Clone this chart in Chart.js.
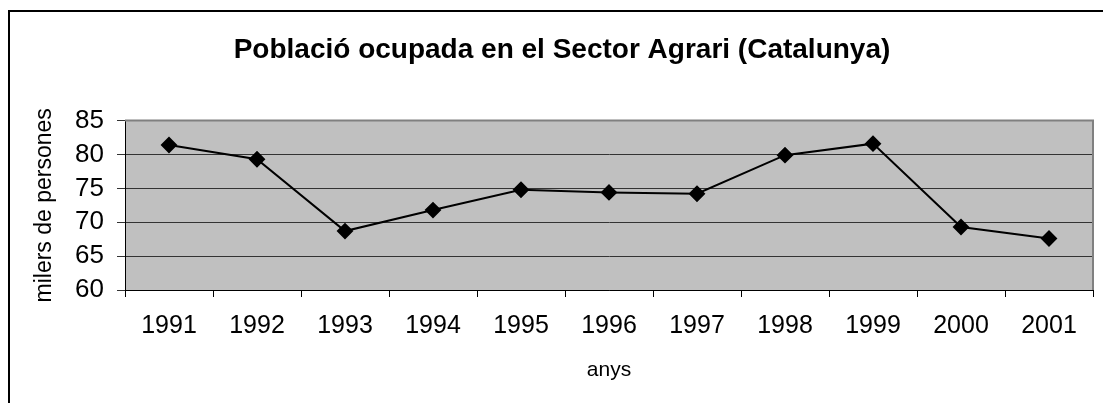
<!DOCTYPE html>
<html>
<head>
<meta charset="utf-8">
<script src="https://cdn.jsdelivr.net/npm/chart.js@4/dist/chart.umd.min.js"></script>
<style>
    html, body { margin: 0; padding: 0; background: #ffffff; }
    #wrap { width: 1103px; height: 403px; }
</style>
</head>
<body>
<div id="wrap"><canvas id="chart_agrari" width="1103" height="403"></canvas></div>
<script>
    // Dades: població ocupada en el sector agrari (milers de persones)
    var anys = ['1991', '1992', '1993', '1994', '1995', '1996', '1997', '1998', '1999', '2000', '2001'];
    var ocupats = [81.4, 79.3, 68.7, 71.8, 74.8, 74.4, 74.2, 79.9, 81.6, 69.3, 67.6];
    var eixY = [60, 65, 70, 75, 80, 85];

    var font = 'Arial, "Liberation Sans", sans-serif';

    // fons gris de l'àrea del gràfic + marc exterior
    var fonsPlugin = {
        id: 'fons',
        beforeDraw: function (chart) {
            var ctx = chart.ctx, a = chart.chartArea;
            ctx.save();
            ctx.fillStyle = '#c0c0c0';
            ctx.fillRect(a.left, a.top, a.right - a.left, a.bottom - a.top);
            // marc del gràfic (només es veuen la vora esquerra i la de dalt)
            ctx.strokeStyle = '#000000';
            ctx.lineWidth = 2;
            ctx.beginPath();
            ctx.moveTo(9, chart.height);
            ctx.lineTo(9, 11);
            ctx.lineTo(chart.width, 11);
            ctx.stroke();
            ctx.restore();
        },
        beforeDatasetsDraw: function (chart) {
            var ctx = chart.ctx, a = chart.chartArea;
            ctx.save();
            ctx.strokeStyle = '#808080';
            ctx.lineWidth = 2;
            ctx.beginPath();
            ctx.moveTo(a.left, a.top);
            ctx.lineTo(a.right, a.top);
            ctx.lineTo(a.right, a.bottom);
            ctx.stroke();
            ctx.restore();
        }
    };

    new Chart(document.getElementById('chart_agrari'), {
        type: 'line',
        data: {
            labels: anys,
            datasets: [{
                label: 'Població ocupada',
                data: ocupats,
                borderColor: '#000000',
                backgroundColor: '#000000',
                borderWidth: 2,
                tension: 0,
                pointStyle: 'rectRot',
                pointRadius: 7,
                pointHoverRadius: 7,
                pointBackgroundColor: '#000000',
                pointBorderColor: '#000000'
            }]
        },
        options: {
            responsive: false,
            animation: false,
            devicePixelRatio: 1,
            layout: { padding: { left: 31, right: 10, top: 0, bottom: 0 } },
            plugins: {
                legend: { display: false },
                tooltip: { enabled: false },
                title: {
                    display: true,
                    text: 'Població ocupada en el Sector Agrari (Catalunya)',
                    color: '#000000',
                    font: { family: font, size: 28, weight: 'bold' },
                    padding: { top: 33, bottom: 54 }
                }
            },
            scales: {
                x: {
                    offset: true,
                    grid: {
                        offset: true,
                        drawOnChartArea: false,
                        drawTicks: true,
                        tickLength: 7,
                        color: '#000000'
                    },
                    border: { display: true, color: '#000000', width: 1 },
                    ticks: {
                        color: '#000000',
                        font: { family: font, size: 25 },
                        padding: 14,
                        maxRotation: 0,
                        autoSkip: false
                    },
                    title: {
                        display: true,
                        text: 'anys',
                        color: '#000000',
                        font: { family: font, size: 21 },
                        padding: { top: 0, bottom: 20 }
                    },
                    afterFit: function (scale) { scale.height = 113; }
                },
                y: {
                    min: eixY[0],
                    max: eixY[eixY.length - 1],
                    afterBuildTicks: function (scale) {
                        scale.ticks = eixY.map(function (v) { return { value: v }; });
                    },
                    grid: {
                        color: '#333333',
                        lineWidth: 1,
                        drawTicks: true,
                        tickLength: 8
                    },
                    border: { display: true, color: '#000000', width: 1 },
                    ticks: {
                        color: '#000000',
                        font: { family: font, size: 26 },
                        padding: 13,
                        autoSkip: false
                    },
                    title: {
                        display: true,
                        text: 'milers de persones',
                        color: '#000000',
                        font: { family: font, size: 23 },
                        padding: { top: 0, bottom: 0 }
                    },
                    afterFit: function (scale) { scale.width = 94; }
                }
            }
        },
        plugins: [fonsPlugin]
    });
</script>
</body>
</html>
